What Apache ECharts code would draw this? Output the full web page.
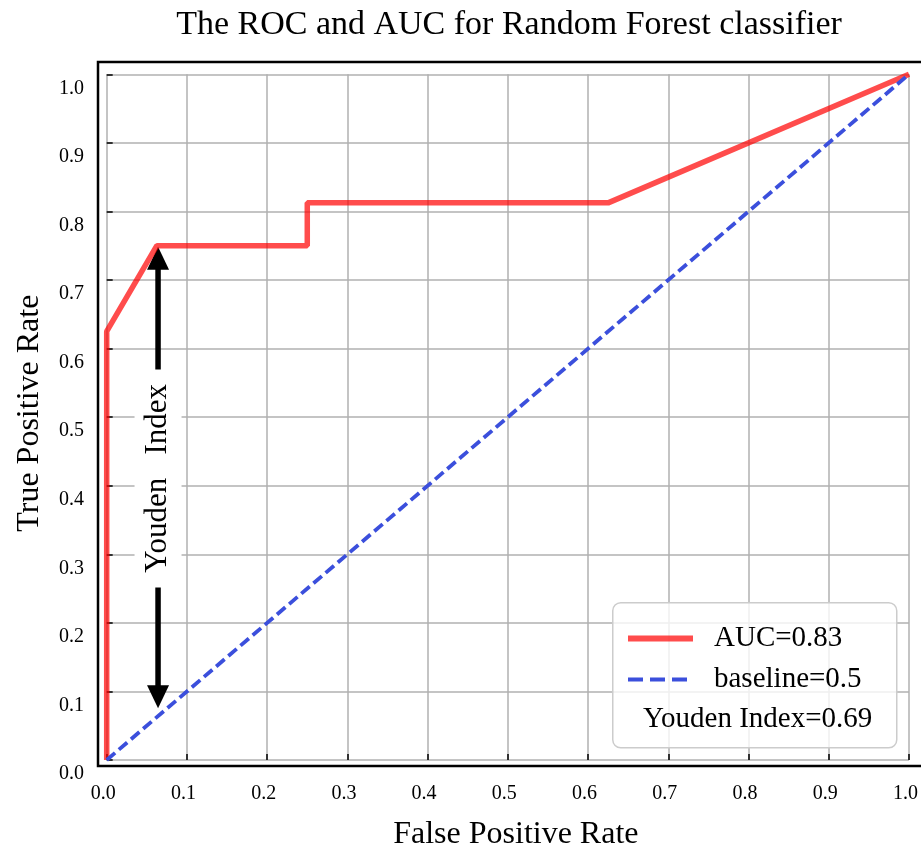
<!DOCTYPE html>
<html>
<head>
    <meta charset="utf-8">
    <script src="https://cdn.jsdelivr.net/npm/echarts@6/dist/echarts.min.js"></script>
</head>
<body style="margin:0">
    <div id="main" style="width: 921px;height:848px;"></div>
    <script type="text/javascript">

    // ROC curve of the random forest
    var fpr = [0, 0, 0.0625, 0.25, 0.25, 0.625, 1];
    var tpr = [0, 0.625, 0.75, 0.75, 0.8125, 0.8125, 1];
    // chance baseline
    var baseFpr = [0, 1];
    var baseTpr = [0, 1];
    // youden index arrow: x position, from baseline to curve
    var youdenX = 0.064;
    var youdenSpan = [0.0625, 0.75];
    var tickValues = [0, 0.1, 0.2, 0.3, 0.4, 0.5, 0.6, 0.7, 0.8, 0.9, 1.0];
    var legendNames = ['AUC=0.83', 'baseline=0.5', 'Youden Index=0.69'];

    var serif = 'Liberation Serif';

    function pairs(xs, ys) {
        return xs.map(function (x, i) { return [x, ys[i]]; });
    }

    var myChart = echarts.init(document.getElementById('main'));

    var axisCommon = {
        type: 'value',
        min: tickValues[0],
        max: tickValues[tickValues.length - 1],
        interval: 0.1,
        axisLine: {show: false},
        axisTick: {show: true, inside: true, length: 6, lineStyle: {color: '#000', width: 1.5}},
        splitLine: {show: true, lineStyle: {color: '#b0b0b0', width: 1.5}},
        axisLabel: {
            fontFamily: serif, fontSize: 20, color: '#000',
            formatter: function (v) { return v.toFixed(1); }
        },
        nameLocation: 'middle',
        nameTextStyle: {fontFamily: serif, fontSize: 32, color: '#000'}
    };

    myChart.setOption({
        animation: false,
        backgroundColor: '#fff',
        title: {
            text: 'The ROC and AUC for Random Forest classifier',
            left: 509,
            textAlign: 'center',
            top: 8,
            padding: 0,
            textStyle: {fontFamily: serif, fontSize: 34, fontWeight: 'normal', color: '#000'}
        },
        grid: [
            {left: 106.7, right: 12, top: 74.3, bottom: 88, outerBoundsMode: 'none'},
            {left: 98, right: -3, top: 62, bottom: 82, show: true, outerBoundsMode: 'none',
             borderColor: '#000', borderWidth: 2.5, backgroundColor: 'transparent'}
        ],
        xAxis: [
            echarts.util.merge({
                gridIndex: 0, offset: 6, name: 'False Positive Rate', nameGap: 53,
                nameTextStyle: {padding: [0, 0, 0, 16]},
                axisLabel: {margin: 18, padding: [0, 7, 0, 0]}
            }, axisCommon),
            {gridIndex: 1, type: 'value', show: false}
        ],
        yAxis: [
            echarts.util.merge({
                gridIndex: 0, offset: 8.7, name: 'True Positive Rate', nameGap: 52,
                nameTextStyle: {padding: [0, 0, 0, 8]},
                axisLabel: {margin: 14, verticalAlign: 'top', lineHeight: 28}
            }, axisCommon),
            {gridIndex: 1, type: 'value', show: false}
        ],
        legend: {
            orient: 'vertical',
            align: 'left',
            left: 625,
            top: 624,
            padding: 0,
            itemWidth: 65,
            itemHeight: 14,
            itemGap: 12,
            z: 10,
            selectedMode: false,
            itemStyle: {opacity: 0},
            data: [
                {name: legendNames[0], lineStyle: {width: 6}},
                {name: legendNames[1], lineStyle: {width: 4, type: [15, 7]}}
            ],
            textStyle: {fontFamily: serif, fontSize: 29, color: '#000', padding: [0, 0, 0, 16]}
        },
        graphic: [
            {
                type: 'rect', left: 612, top: 602, z: 5,
                shape: {width: 284, height: 145, r: 8},
                style: {fill: 'rgba(255,255,255,0.8)', stroke: '#cccccc', lineWidth: 1.5}
            },
            {
                type: 'text', left: 643, top: 705, z: 10,
                style: {text: legendNames[2], font: '29px "' + serif + '"', fill: '#000'}
            }
        ],
        series: [
            {
                name: legendNames[0],
                type: 'line',
                data: pairs(fpr, tpr),
                symbol: 'none',
                clip: false,
                itemStyle: {color: 'rgba(255,0,0,0.7)'},
                lineStyle: {color: 'rgba(255,0,0,0.7)', width: 5.5}
            },
            {
                name: legendNames[1],
                type: 'line',
                data: pairs(baseFpr, baseTpr),
                symbol: 'none',
                clip: false,
                itemStyle: {color: '#3b4fdc'},
                lineStyle: {color: '#3b4fdc', width: 3.8, type: [11, 5]}
            },
            {
                name: legendNames[2],
                type: 'custom',
                data: [[youdenX, youdenSpan[1], youdenSpan[0]]],
                z: 3,
                renderItem: function (params, api) {
                    var top = api.coord([api.value(0), api.value(1)]);
                    var bot = api.coord([api.value(0), api.value(2)]);
                    var x = top[0];
                    var t1 = top[1] + 1, t2 = bot[1] - 9;
                    var head = 23, hw = 11;
                    var mid = (t1 + t2) / 2 + 1;
                    return {
                        type: 'group',
                        children: [
                            {type: 'line', shape: {x1: x, y1: t1 + head - 2, x2: x, y2: t2 - head + 2},
                             style: {stroke: '#000', lineWidth: 5.5}},
                            {type: 'polygon', shape: {points: [[x, t1], [x - hw, t1 + head], [x + hw, t1 + head]]},
                             style: {fill: '#000'}},
                            {type: 'polygon', shape: {points: [[x, t2], [x - hw, t2 - head], [x + hw, t2 - head]]},
                             style: {fill: '#000'}},
                            {type: 'rect', shape: {x: x - 23.5, y: mid - 109, width: 47, height: 218},
                             style: {fill: '#fff'}},
                            {type: 'text', x: x, y: mid, rotation: Math.PI / 2,
                             style: {text: 'Youden   Index', font: '31px "' + serif + '"', fill: '#000',
                                     align: 'center', verticalAlign: 'middle'}}
                        ]
                    };
                }
            }
        ]
    });

</script>
</body>
</html>
